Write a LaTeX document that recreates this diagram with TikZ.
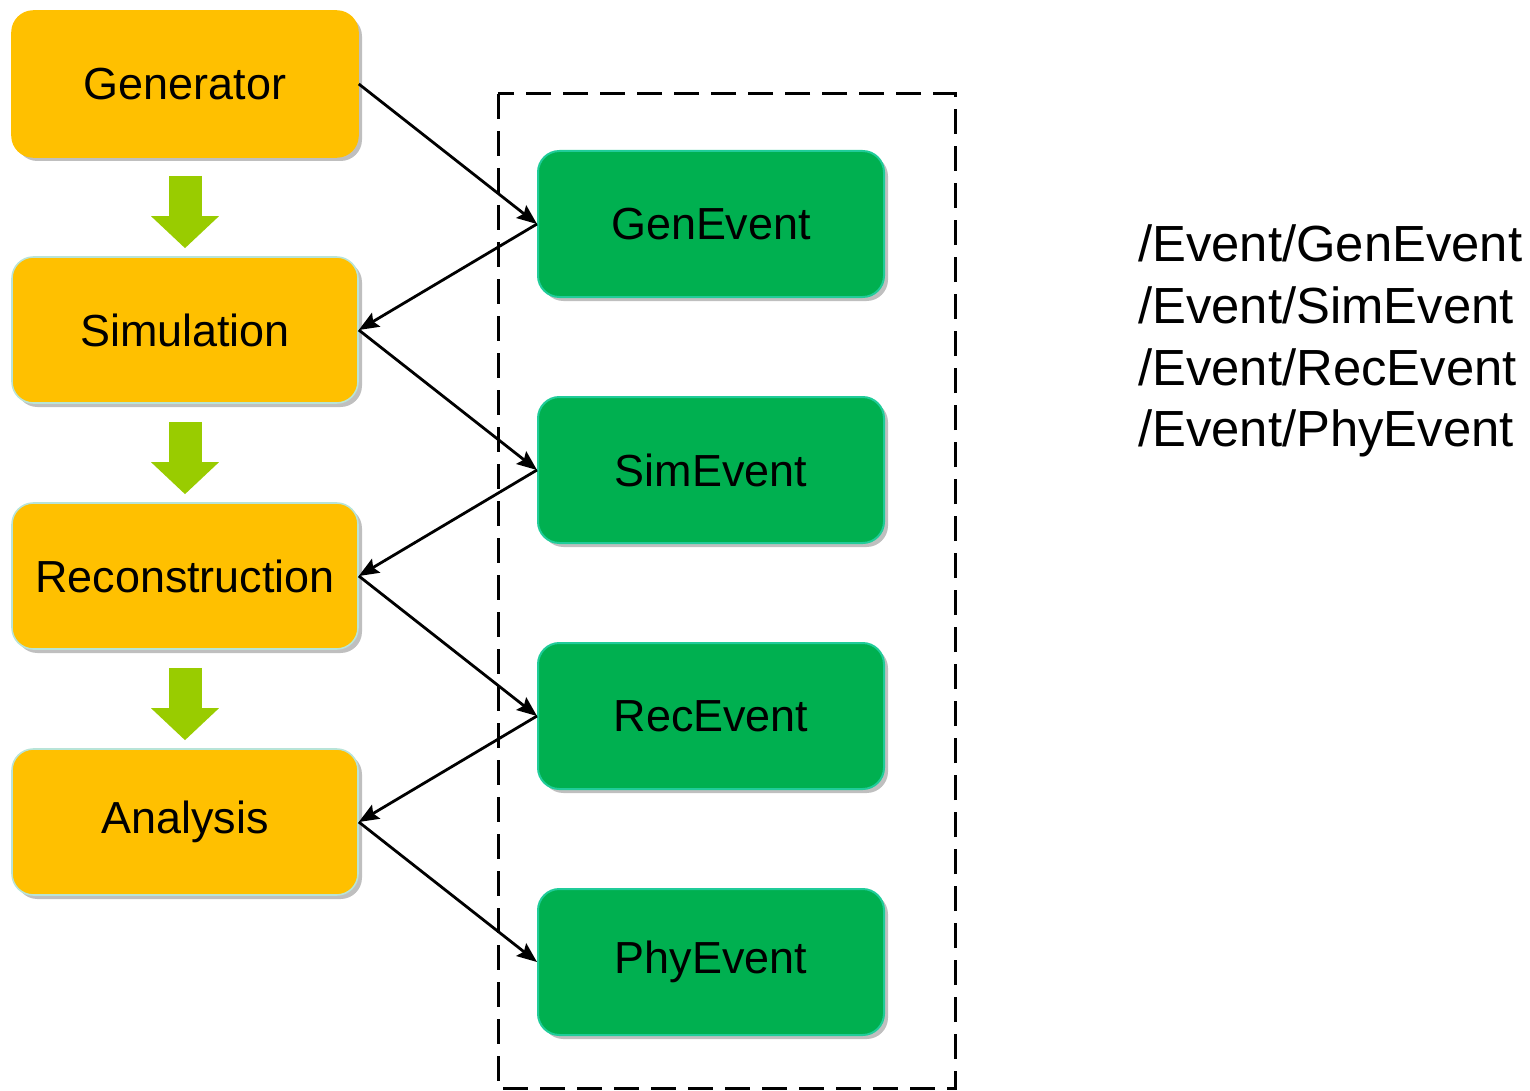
\documentclass[tikz,border=0pt]{standalone}
\usepackage{fontspec}
\setmainfont{Liberation Sans}
\usetikzlibrary{arrows.meta,shadows}
\definecolor{orangefill}{HTML}{FFC000}
\definecolor{orangeedge}{HTML}{B8E4D8}
\definecolor{greenfill}{HTML}{00B050}
\definecolor{greenedge}{HTML}{20CC99}
\definecolor{flowgreen}{HTML}{99CC00}
\tikzset{
  stagebox/.style={rectangle, rounded corners=16pt, fill=orangefill, draw=orangeedge, line width=1.2pt,
    minimum width=259.5pt, minimum height=109.5pt, inner sep=0pt,
    font=\fontsize{33.7pt}{40pt}\selectfont,
    drop shadow={shadow xshift=3pt, shadow yshift=-3pt, opacity=0.25, fill=black}},
  eventbox/.style={rectangle, rounded corners=16pt, fill=greenfill, draw=greenedge, line width=1.5pt,
    minimum width=259.5pt, minimum height=109.5pt, inner sep=0pt,
    font=\fontsize{33.7pt}{40pt}\selectfont,
    drop shadow={shadow xshift=3pt, shadow yshift=-3pt, opacity=0.25, fill=black}},
  flowarrow/.style={draw=flowgreen, line width=24.75pt, shorten <=13.5pt, shorten >=6pt,
    -{Triangle[width=49.5pt,length=24pt]}},
  link/.style={line width=2.1pt, -{Stealth[length=15pt,width=12pt,inset=2.5pt]}},
  pathtext/.style={anchor=base west, inner sep=0pt, font=\fontsize{38.1pt}{45pt}\selectfont},
}
\begin{document}
\begin{tikzpicture}[x=0.75pt, y=-0.75pt]
\useasboundingbox (0,0) rectangle (1530,1091);
% dashed container
\draw[line width=2.25pt, dash pattern=on 18.75pt off 9pt] (498,94) rectangle (955,1088);
% stage boxes
\node[stagebox, draw=orangefill] (gen) at (185,84) {Generator};
\node[stagebox] (sim) at (185,330) {Simulation};
\node[stagebox] (rec) at (185,576) {Reconstruction};
\node[stagebox] (ana) at (185,822) {Analysis};
% event boxes
\node[eventbox] (genev) at (711,224) {GenEvent};
\node[eventbox] (simev) at (711,470) {SimEvent};
\node[eventbox] (recev) at (711,716) {RecEvent};
\node[eventbox] (phyev) at (711,962) {PhyEvent};
% flow arrows
\draw[flowarrow] (gen.south) -- (sim.north);
\draw[flowarrow] (sim.south) -- (rec.north);
\draw[flowarrow] (rec.south) -- (ana.north);
% links
\draw[link] (gen.east) -- (genev.west);
\draw[link] (genev.west) -- (sim.east);
\draw[link] (sim.east) -- (simev.west);
\draw[link] (simev.west) -- (rec.east);
\draw[link] (rec.east) -- (recev.west);
\draw[link] (recev.west) -- (ana.east);
\draw[link] (ana.east) -- (phyev.west);
% paths
\node[pathtext] (p1) at (1138,262) {/Event/GenEvent};
\node[pathtext] (p2) at (1138,323) {/Event/SimEvent};
\node[pathtext] (p3) at (1138,385) {/Event/RecEvent};
\node[pathtext] (p4) at (1138,446) {/Event/PhyEvent};
\end{tikzpicture}
\end{document}
